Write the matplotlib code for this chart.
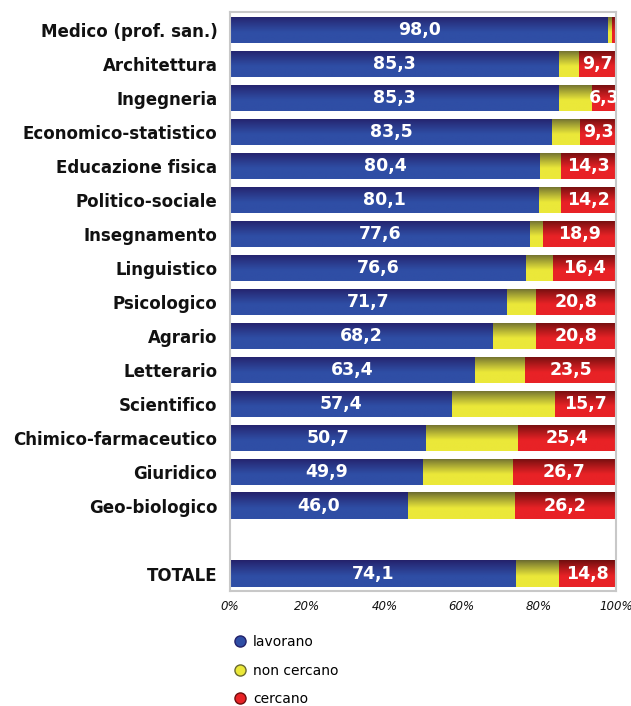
import numpy as np
import matplotlib
matplotlib.use("Agg")
import matplotlib.pyplot as plt
from matplotlib.colors import LinearSegmentedColormap
from matplotlib.lines import Line2D

categories = ["Medico (prof. san.)", "Architettura", "Ingegneria", "Economico-statistico",
              "Educazione fisica", "Politico-sociale", "Insegnamento", "Linguistico",
              "Psicologico", "Agrario", "Letterario", "Scientifico",
              "Chimico-farmaceutico", "Giuridico", "Geo-biologico", "TOTALE"]
lavorano = [98.0, 85.3, 85.3, 83.5, 80.4, 80.1, 77.6, 76.6, 71.7, 68.2, 63.4, 57.4, 50.7, 49.9, 46.0, 74.1]
non_cercano = [0.9, 5.0, 8.4, 7.2, 5.3, 5.7, 3.5, 7.0, 7.5, 11.0, 13.1, 26.9, 23.9, 23.4, 27.8, 11.1]
cercano = [1.1, 9.7, 6.3, 9.3, 14.3, 14.2, 18.9, 16.4, 20.8, 20.8, 23.5, 15.7, 25.4, 26.7, 26.2, 14.8]
positions = list(range(15)) + [16]
series_names = ["lavorano", "non cercano", "cercano"]
xticks = [0, 20, 40, 60, 80, 100]

grad = {
    "lavorano": ("#24216a", "#2f4ea5"),
    "non cercano": ("#6a6a30", "#ebe839"),
    "cercano": ("#6e0e0e", "#e82226"),
}

fig = plt.figure(figsize=(6.31, 7.06), dpi=100)
ax = fig.add_axes([230/631, 1-590.7/706, (616-230)/631, (590.7-12)/706])

h = 0.78
gvals = np.linspace(0, 1, 64)
profile = np.clip(gvals / 0.6, 0, 1) ** 0.9

def gradient_bar(ys, widths, lefts, name):
    c0, c1 = grad[name]
    cmap = LinearSegmentedColormap.from_list(name, [c0, c1])
    bars = ax.barh(ys, widths, left=lefts, height=h, color=c1, edgecolor="none")
    for b in bars:
        x0, y0 = b.get_x(), b.get_y()
        w, hh = b.get_width(), b.get_height()
        img = ax.imshow(profile.reshape(-1, 1), cmap=cmap, vmin=0, vmax=1, aspect="auto",
                        extent=[x0, x0 + w, y0 + hh, y0], origin="upper", zorder=2,
                        interpolation="bilinear")
        img.set_clip_path(b)
    return bars

lav = np.array(lavorano)
non = np.array(non_cercano)
cer = np.array(cercano)
gradient_bar(positions, lav, 0, "lavorano")
gradient_bar(positions, non, lav, "non cercano")
gradient_bar(positions, cer, lav + non, "cercano")

fmt = lambda v: f"{v:.1f}".replace(".", ",")
for y, l, n, c in zip(positions, lav, non, cer):
    ax.text(l / 2, y, fmt(l), ha="center", va="center", color="white",
            fontsize=12.5, fontweight="bold", zorder=5)
    if c > 3:
        ax.text(l + n + c / 2, y, fmt(c), ha="center", va="center", color="white",
                fontsize=12.5, fontweight="bold", zorder=5, clip_on=True)

ax.set_xlim(0, 100)
ax.set_ylim(16.5, -0.53)
ax.set_yticks(positions)
ax.set_yticklabels(categories, fontsize=12, fontweight="bold")
ax.set_xticks(xticks)
ax.set_xticklabels([f"{t}%" for t in xticks], fontsize=8.5, style="italic")
ax.tick_params(axis="both", length=0, colors="#111111")
ax.tick_params(axis="y", pad=9)
ax.tick_params(axis="x", pad=7)
for s in ax.spines.values():
    s.set_color("#c8c8c8")
    s.set_linewidth(1.5)

handles = [Line2D([], [], marker="o", linestyle="none", markersize=8,
                  markerfacecolor=grad[n][1], markeredgecolor=grad[n][0])
           for n in series_names]
fig.legend(handles, series_names, loc="upper left", bbox_to_anchor=(233/631, 1-635/706),
           frameon=False, fontsize=10, handletextpad=0.45, labelspacing=1.05,
           handlelength=1.0, borderpad=0, borderaxespad=0)

fig.savefig("out.png", dpi=100)
